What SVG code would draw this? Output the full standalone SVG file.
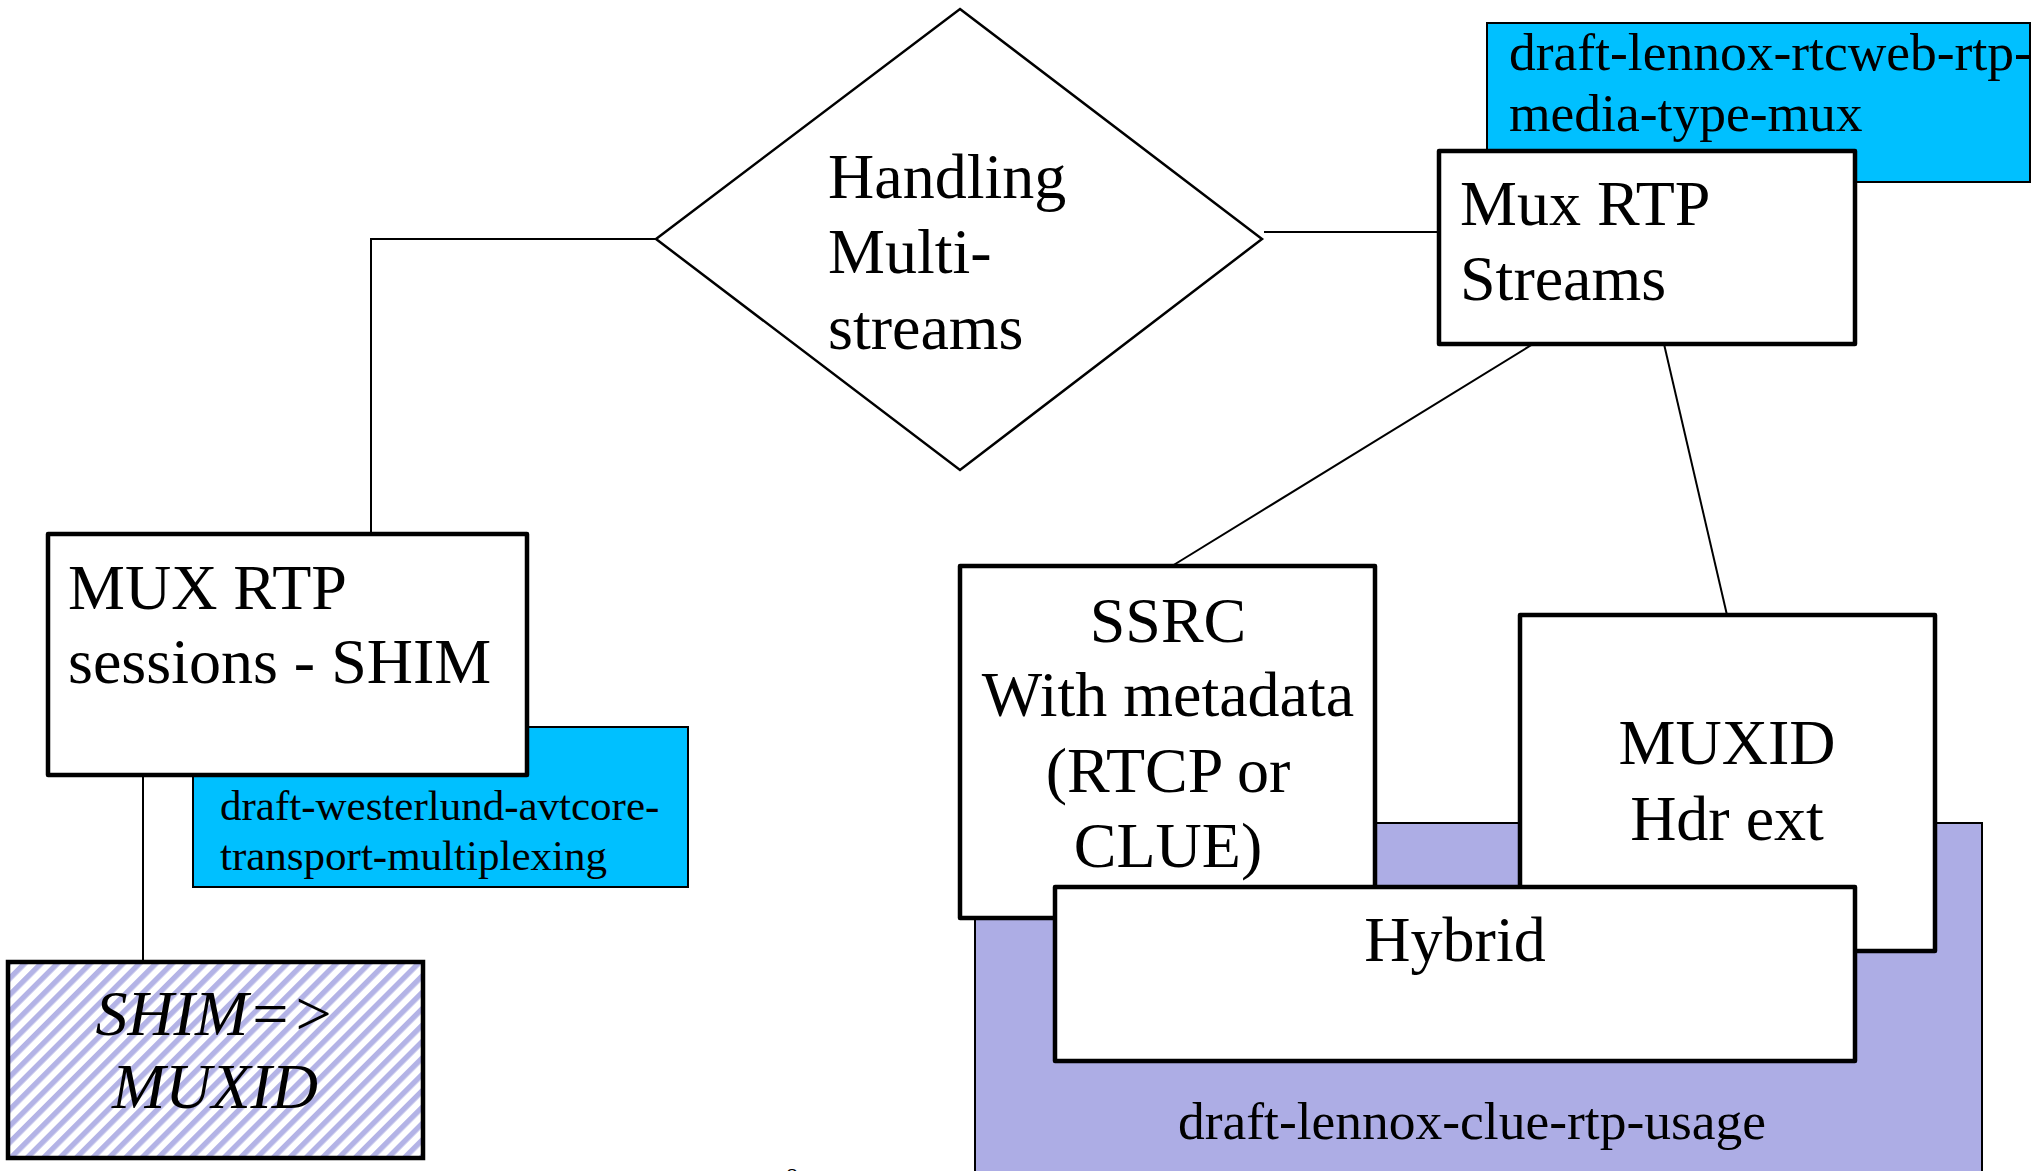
<svg xmlns="http://www.w3.org/2000/svg" width="2042" height="1171" viewBox="0 0 2042 1171">
<defs>
<pattern id="hatch" patternUnits="userSpaceOnUse" width="11.6" height="11.6" patternTransform="rotate(45)">
<rect x="0" y="0" width="11.6" height="11.6" fill="#ffffff"/>
<rect x="0" y="0" width="5.4" height="11.6" fill="#B3B3E6"/>
</pattern>
</defs>
<style>
.t{font-family:"Liberation Serif","Times New Roman",serif;fill:#000;}
.big{font-size:64px;}
.mid{font-size:53.5px;}
.sm{font-size:43px;}
.thick{fill:#fff;stroke:#000;stroke-width:4.5;stroke-linejoin:round;}
.blue{fill:#00C0FF;stroke:#000;stroke-width:2;}
.conn{fill:none;stroke:#000;stroke-width:2;}
</style>
<rect width="2042" height="1171" fill="#fff"/>
<g id="connectors">
<polyline class="conn" points="656,239 371,239 371,534"/>
<line class="conn" x1="1264" y1="232" x2="1439" y2="232"/>
<line class="conn" x1="143" y1="775" x2="143" y2="961"/>
<line class="conn" x1="1533" y1="344" x2="1172" y2="566"/>
<line class="conn" x1="1664" y1="344" x2="1727" y2="615"/>
</g>
<g id="handling">
<polygon points="960,9 1262,239 960,470 656,239" fill="#fff" stroke="#000" stroke-width="2.5"/>
<text class="t big" x="828" y="198">Handling</text>
<text class="t big" x="828" y="273">Multi-</text>
<text class="t big" x="828" y="349">streams</text>
</g>
<g id="rtcweb-draft">
<rect class="blue" x="1487" y="23" width="543" height="159"/>
<text class="t mid" x="1509" y="70">draft-lennox-rtcweb-rtp-</text>
<text class="t mid" x="1509" y="131">media-type-mux</text>
</g>
<g id="mux-rtp-streams">
<rect class="thick" x="1439" y="151" width="416" height="193"/>
<text class="t big" x="1460" y="225">Mux RTP</text>
<text class="t big" x="1460" y="300">Streams</text>
</g>
<g id="westerlund-draft">
<rect class="blue" x="193" y="727" width="495" height="160"/>
<text class="t sm" x="220" y="820">draft-westerlund-avtcore-</text>
<text class="t sm" x="220" y="870">transport-multiplexing</text>
</g>
<g id="mux-rtp-sessions">
<rect class="thick" x="48" y="534" width="479" height="241"/>
<text class="t big" x="68" y="609">MUX RTP</text>
<text class="t big" x="68" y="683">sessions - SHIM</text>
</g>
<g id="shim-muxid">
<rect x="8" y="962" width="415" height="196" fill="url(#hatch)" stroke="#000" stroke-width="4.5"/>
<text class="t big" x="215" y="1035" text-anchor="middle" font-style="italic">SHIM=&gt;</text>
<text class="t big" x="215" y="1108" text-anchor="middle" font-style="italic">MUXID</text>
</g>
<g id="clue-rtp-usage">
<rect x="975" y="823" width="1007" height="360" fill="#ADADE5" stroke="#000" stroke-width="2"/>
<text class="t mid" x="1472" y="1139" text-anchor="middle">draft-lennox-clue-rtp-usage</text>
</g>
<g id="ssrc">
<rect class="thick" x="960" y="566" width="415" height="352"/>
<text class="t big" x="1168" y="642" text-anchor="middle">SSRC</text>
<text class="t big" x="1168" y="716" text-anchor="middle">With metadata</text>
<text class="t big" x="1168" y="792" text-anchor="middle">(RTCP or</text>
<text class="t big" x="1168" y="867" text-anchor="middle">CLUE)</text>
</g>
<g id="muxid-hdr">
<rect class="thick" x="1520" y="615" width="415" height="336"/>
<text class="t big" x="1727" y="764" text-anchor="middle">MUXID</text>
<text class="t big" x="1727" y="840" text-anchor="middle">Hdr ext</text>
</g>
<g id="hybrid">
<rect class="thick" x="1055" y="887" width="800" height="174"/>
<text class="t big" x="1455" y="961" text-anchor="middle">Hybrid</text>
</g>
<text class="t" x="786" y="1184" font-size="24">8</text>
</svg>
